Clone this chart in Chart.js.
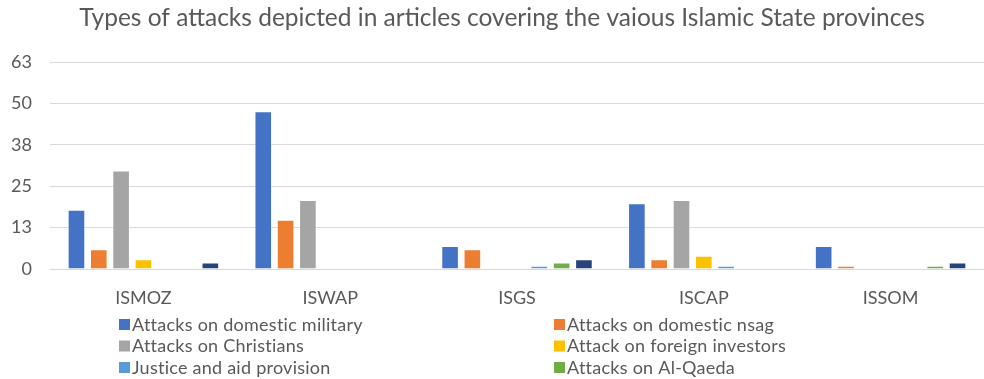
<!DOCTYPE html>
<html>
<head>
<meta charset="utf-8">
<script src="https://cdn.jsdelivr.net/npm/chart.js@4/dist/chart.umd.min.js"></script>
<style>
  html, body { margin: 0; padding: 0; background: #ffffff; }
  #wrap { position: relative; width: 984px; height: 379px; }
</style>
</head>
<body>
<div id="wrap"><canvas id="c" width="984" height="379"></canvas></div>
<script>
const categories = ['ISMOZ', 'ISWAP', 'ISGS', 'ISCAP', 'ISSOM'];
const domesticMilitary = [18, 48, 7, 20, 7];
const domesticNsag = [6, 15, 6, 3, 1];
const christians = [30, 21, 0, 21, 0];
const foreignInvestors = [3, 0, 0, 4, 0];
const justiceAid = [0, 0, 1, 1, 0];
const alQaeda = [0, 0, 2, 0, 1];
const seventhSeries = [2, 0, 3, 0, 2];
const yTickValues = [0, 12.6, 25.2, 37.8, 50.4, 63];
const yTickLabels = ['0', '13', '25', '38', '50', '63'];
const seriesNames = ['Attacks on domestic military', 'Attacks on domestic nsag', 'Attacks on Christians',
  'Attack on foreign investors', 'Justice and aid provision', 'Attacks on Al-Qaeda', ''];
const seriesColors = ['#4472C4', '#ED7D31', '#A5A5A5', '#FFC000', '#5B9BD5', '#70AD47', '#264478'];
const seriesValues = [domesticMilitary, domesticNsag, christians, foreignInvestors, justiceAid, alQaeda, seventhSeries];

const FONT = 'Lato, "Open Sans", sans-serif';
const TEXT = '#595959';

const titleShift = {
  id: 'titleShift',
  afterLayout(chart) {
    if (chart.titleBlock) chart.titleBlock.left += 20;
  }
};

const legendPlugin = {
  id: 'gridLegend',
  afterDraw(chart) {
    const ctx = chart.ctx;
    ctx.save();
    ctx.font = '18px ' + FONT;
    ctx.letterSpacing = '0.25px';
    ctx.textBaseline = 'middle';
    ctx.textAlign = 'left';
    const colText = [132, 567];
    const rowY = [324, 345.5, 367];
    chart.data.datasets.forEach((ds, i) => {
      if (!ds.label) return;
      const col = i % 2, row = Math.floor(i / 2);
      if (row >= rowY.length) return;
      const x = colText[col], y = rowY[row];
      ctx.fillStyle = ds.backgroundColor;
      ctx.fillRect(x - 13, y - 5, 11, 11);
      ctx.fillStyle = TEXT;
      ctx.fillText(ds.label, x, y + 1);
    });
    ctx.restore();
  }
};

new Chart(document.getElementById('c'), {
  type: 'bar',
  data: {
    labels: categories,
    datasets: seriesValues.map((vals, i) => ({
      label: seriesNames[i],
      data: vals,
      backgroundColor: seriesColors[i],
      borderColor: 'rgba(255,255,255,0.5)',
      borderWidth: 1,
      categoryPercentage: 0.836,
      barPercentage: 0.79
    }))
  },
  options: {
    responsive: false,
    animation: false,
    layout: { padding: { left: 0, right: 0, top: 0, bottom: 70 } },
    plugins: {
      legend: { display: false },
      tooltip: { enabled: false },
      title: {
        display: true,
        text: 'Types of attacks depicted in articles covering the vaious Islamic State provinces',
        color: TEXT,
        font: { family: FONT, size: 24.5, weight: 'normal', lineHeight: 1.2 },
        padding: { top: 3, bottom: 29.6 }
      }
    },
    scales: {
      x: {
        clip: false,
        grid: { display: false, drawTicks: false },
        border: { display: false },
        ticks: { color: TEXT, font: { family: FONT, size: 18 }, padding: 18 },
        afterFit(scale) { scale.height = 40; }
      },
      y: {
        min: 0,
        max: 63,
        grid: { color: '#d9d9d9', lineWidth: 1, drawTicks: false },
        border: { display: false },
        afterBuildTicks(scale) { scale.ticks = yTickValues.map(v => ({ value: v })); },
        ticks: {
          color: TEXT,
          font: { family: FONT, size: 18 },
          padding: 18,
          callback: (v, idx) => yTickLabels[idx]
        },
        afterFit(scale) { scale.width = 50; }
      }
    }
  },
  plugins: [titleShift, legendPlugin]
});
</script>
</body>
</html>
